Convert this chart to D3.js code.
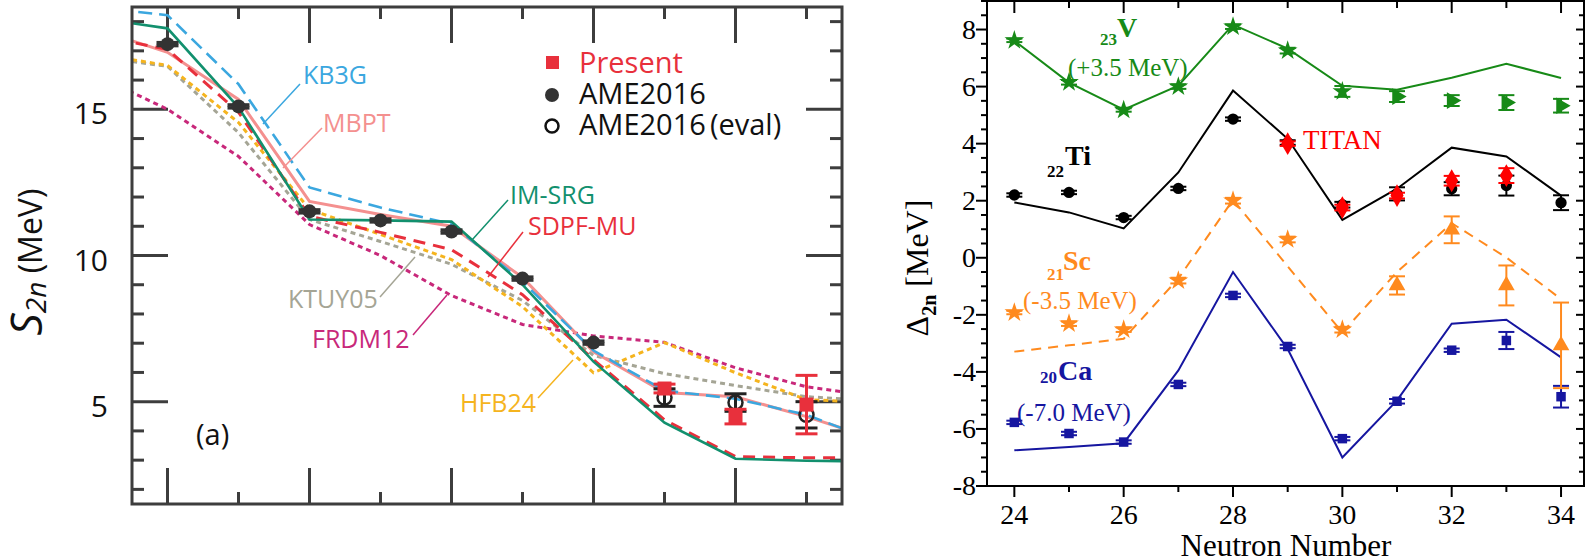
<!DOCTYPE html>
<html>
<head>
<meta charset="utf-8">
<script src="https://cdn.jsdelivr.net/npm/d3@7"></script>
<style>
  body { margin: 0; background: #fff; }
</style>
</head>
<body>
<div id="chart"></div>
<script>
// ---------- panel (a): S2n vs neutron number ----------
var leftN  = [23, 24, 25, 26, 27, 28, 29, 30, 31, 32, 33, 34];
var kb3g   = [18.49, 18.22, 15.86, 12.33, 11.64, 11.08, 9.1, 6.75, 5.38, 5.10, 4.55, 3.63];
var mbpt   = [17.74, 16.95, 15.34, 11.85, 11.40, 11.00, 9.25, 6.71, 5.31, 5.17, 4.49, 3.70];
var imsrg  = [18.12, 17.77, 15.07, 11.23, 11.20, 11.16, 9.0, 6.37, 4.28, 3.05, 2.98, 2.95];
var sdpfmu = [17.53, 17.05, 14.90, 11.34, 10.79, 10.20, 8.66, 6.44, 4.38, 3.12, 3.08, 3.08];
var ktuy05 = [16.80, 16.47, 14.20, 11.23, 10.48, 9.70, 8.46, 6.58, 5.96, 5.55, 5.17, 5.03];
var hfb24  = [16.90, 16.50, 14.55, 11.58, 10.72, 9.86, 8.25, 5.99, 7.02, 5.99, 5.07, 4.97];
var frdm12 = [16.16, 15.00, 13.39, 11.06, 10.00, 8.63, 7.64, 7.25, 7.03, 6.16, 5.51, 5.17];

var ameN   = [24, 25, 26, 27, 28, 29, 30];
var ameS2n = [17.23, 15.10, 11.51, 11.20, 10.82, 9.21, 7.02];
var ameErr = [0.05, 0.05, 0.05, 0.05, 0.05, 0.05, 0.05];

var evalN   = [31, 32, 33];
var evalS2n = [5.14, 4.97, 4.55];
var evalErr = [0.3, 0.3, 0.45];

var presN   = [31, 32, 33];
var presS2n = [5.45, 4.49, 4.90];
var presErr = [0.15, 0.25, 1.0];

var leftTicksMajor = [5, 10, 15];

// ---------- panel (b): Delta_2n ----------
var rightN   = [24, 25, 26, 27, 28, 29, 30, 31, 32, 33, 34];
var vTheory  = [7.61, 6.14, 5.19, 6.03, 8.17, 7.33, 6.03, 5.89, 6.31, 6.80, 6.30];
var vData    = [7.62, 6.15, 5.18, 6.00, 8.10, 7.26, 5.83, 5.65, 5.51, 5.44, 5.33];
var vErr     = [0.06, 0.08, 0.06, 0.08, 0.08, 0.1, 0.19, 0.19, 0.19, 0.26, 0.24];
var tiTheory = [1.94, 1.59, 1.03, 2.99, 5.86, 4.17, 1.33, 2.42, 3.86, 3.55, 2.18];
var tiData   = [2.20, 2.29, 1.41, 2.43, 4.86, 4.04, 1.86, 2.24, 2.42, 2.53, 1.93];
var tiErr    = [0.06, 0.06, 0.06, 0.06, 0.06, 0.08, 0.1, 0.23, 0.23, 0.35, 0.26];
var titanN   = [29, 30, 31, 32, 33];
var titanData= [4.00, 1.76, 2.18, 2.70, 2.88];
var titanErr = [0.08, 0.1, 0.1, 0.17, 0.26];
var scTheory = [-3.29, -3.07, -2.84, -0.73, 2.03, -0.30, -2.62, -0.50, 1.21, 0.01, -1.45];
var scData   = [-1.92, -2.31, -2.52, -0.80, 2.00, 0.64, -2.52, -0.97, 0.98, -0.97, -3.07];
var scErr    = [0.06, 0.08, 0.08, 0.1, 0.1, 0.1, 0.1, 0.32, 0.47, 0.7, 1.5];
var caTheory = [-6.75, -6.63, -6.50, -3.95, -0.50, -3.20, -7.00, -5.00, -2.31, -2.17, -3.49];
var caData   = [-5.77, -6.16, -6.46, -4.44, -1.32, -3.11, -6.34, -5.03, -3.24, -2.90, -4.87];
var caErr    = [0.06, 0.06, 0.06, 0.06, 0.06, 0.06, 0.06, 0.08, 0.06, 0.3, 0.38];

var rightTicksMajor = [-8, -6, -4, -2, 0, 2, 4, 6, 8];
var rightXLabels = [24, 26, 28, 30, 32, 34];

document.addEventListener('DOMContentLoaded', function() {

var svg = d3.select("#chart").append("svg")
  .attr("width", 1589)
  .attr("height", 557)
  .style("background", "#fff");

var sans = "'Open Sans', 'DejaVu Sans', sans-serif";
var serif = "'Liberation Serif', 'DejaVu Serif', serif";

// ============ left panel ============
var xa = d3.scaleLinear().domain([23.5, 33.5]).range([132, 842]);
var ya = d3.scaleLinear().domain([1.5, 18.5]).range([504, 7]);
var frameCol = "#3d3d3d";

svg.append("clipPath").attr("id", "clipA")
  .append("rect").attr("x", 132).attr("y", 7).attr("width", 710).attr("height", 497);

var pa = svg.append("g");

// axes: ticks inward on all four sides
function tickLines(g, vals, fn, col, w) {
  g.selectAll(null).data(vals).enter().append("line")
    .each(function(d) { var c = fn(d); d3.select(this).attr("x1", c[0]).attr("y1", c[1]).attr("x2", c[2]).attr("y2", c[3]); })
    .attr("stroke", col).attr("stroke-width", w);
}
var yMinorA = d3.range(2, 19).filter(function(v) { return leftTicksMajor.indexOf(v) < 0; });
tickLines(pa, yMinorA, function(v) { return [132, ya(v), 144, ya(v)]; }, frameCol, 3);
tickLines(pa, leftTicksMajor, function(v) { return [132, ya(v), 168, ya(v)]; }, frameCol, 3);
tickLines(pa, yMinorA, function(v) { return [842, ya(v), 830, ya(v)]; }, frameCol, 3);
tickLines(pa, leftTicksMajor, function(v) { return [842, ya(v), 806, ya(v)]; }, frameCol, 3);
var xMajorA = [24, 26, 28, 30, 32], xMinorA = [25, 27, 29, 31, 33];
tickLines(pa, xMajorA, function(n) { return [xa(n), 7, xa(n), 43]; }, frameCol, 3);
tickLines(pa, xMinorA, function(n) { return [xa(n), 7, xa(n), 19]; }, frameCol, 3);
tickLines(pa, xMajorA, function(n) { return [xa(n), 504, xa(n), 468]; }, frameCol, 3);
tickLines(pa, xMinorA, function(n) { return [xa(n), 504, xa(n), 492]; }, frameCol, 3);

pa.selectAll(".ylab").data(leftTicksMajor).enter().append("text")
  .attr("x", 108).attr("y", function(v) { return ya(v) + 15; })
  .attr("text-anchor", "end")
  .style("font-family", sans).style("font-size", "30px").attr("fill", "#111")
  .text(function(v) { return v; });

// y title  S_2n (MeV)
var ylt = pa.append("text").attr("transform", "translate(42,262) rotate(-90)")
  .attr("text-anchor", "middle").style("font-family", sans).attr("fill", "#111");
ylt.append("tspan").style("font-style", "italic").style("font-size", "44px").text("S");
ylt.append("tspan").attr("dy", 4).style("font-style", "italic").style("font-size", "28px").text("2n");
ylt.append("tspan").attr("dy", -4).style("font-size", "32px").text(" (MeV)");

// model curves
var models = [
  { name: "FRDM12",  vals: frdm12, color: "#c8287a", dash: "5,4",  w: 3 },
  { name: "KTUY05",  vals: ktuy05, color: "#a5a595", dash: "5,4",  w: 3 },
  { name: "HFB24",   vals: hfb24,  color: "#f5b41e", dash: "5,4",  w: 3 },
  { name: "MBPT",    vals: mbpt,   color: "#f4908f", dash: null,   w: 3 },
  { name: "KB3G",    vals: kb3g,   color: "#3ba7df", dash: "14,7", w: 2.6 },
  { name: "SDPF-MU", vals: sdpfmu, color: "#e8303c", dash: "12,8", w: 3 },
  { name: "IM-SRG",  vals: imsrg,  color: "#12906e", dash: null,   w: 2.6 }
];
var lineA = d3.line()
  .x(function(d) { return xa(d[0]); })
  .y(function(d) { return ya(d[1]); });
var curves = pa.append("g").attr("clip-path", "url(#clipA)");
models.forEach(function(m) {
  curves.append("path")
    .datum(leftN.map(function(n, i) { return [n, m.vals[i]]; }))
    .attr("d", lineA)
    .attr("fill", "none")
    .attr("stroke", m.color)
    .attr("stroke-width", m.w)
    .attr("stroke-dasharray", m.dash);
});

// error bar helper
function errBars(g, x, y, ns, vals, errs, color, cap, sw) {
  var d = ns.map(function(n, i) { return { n: n, v: vals[i], e: errs[i] }; });
  var e = g.append("g");
  e.selectAll(null).data(d).enter().append("line")
    .attr("x1", function(p) { return x(p.n); }).attr("x2", function(p) { return x(p.n); })
    .attr("y1", function(p) { return y(p.v - p.e); }).attr("y2", function(p) { return y(p.v + p.e); })
    .attr("stroke", color).attr("stroke-width", sw);
  [-1, 1].forEach(function(s) {
    e.selectAll(null).data(d).enter().append("line")
      .attr("x1", function(p) { return x(p.n) - cap; }).attr("x2", function(p) { return x(p.n) + cap; })
      .attr("y1", function(p) { return y(p.v + s * p.e); }).attr("y2", function(p) { return y(p.v + s * p.e); })
      .attr("stroke", color).attr("stroke-width", sw);
  });
}

// AME2016 (eval) open circles
errBars(pa, xa, ya, evalN, evalS2n, evalErr, "#222", 11, 3);
pa.selectAll(".ev").data(evalN).enter().append("circle")
  .attr("cx", function(n) { return xa(n); })
  .attr("cy", function(n, i) { return ya(evalS2n[i]); })
  .attr("r", 7).attr("fill", "none").attr("stroke", "#222").attr("stroke-width", 2.5);

// Present
errBars(pa, xa, ya, presN, presS2n, presErr, "#e8303c", 11, 3);
pa.selectAll(".pr").data(presN).enter().append("rect")
  .attr("x", function(n) { return xa(n) - 7; })
  .attr("y", function(n, i) { return ya(presS2n[i]) - 7; })
  .attr("width", 14).attr("height", 14).attr("fill", "#e8303c");

// AME2016
errBars(pa, xa, ya, ameN, ameS2n, ameErr, "#333", 11, 3.5);
pa.selectAll(".am").data(ameN).enter().append("circle")
  .attr("cx", function(n) { return xa(n); })
  .attr("cy", function(n, i) { return ya(ameS2n[i]); })
  .attr("r", 7).attr("fill", "#333");

// frame
pa.append("rect").attr("x", 132).attr("y", 7).attr("width", 710).attr("height", 497)
  .attr("fill", "none").attr("stroke", frameCol).attr("stroke-width", 3);

// legend
var leg = pa.append("g").style("font-family", sans).style("font-size", "29px");
leg.append("rect").attr("x", 546).attr("y", 56).attr("width", 13).attr("height", 13).attr("fill", "#e8303c");
leg.append("text").attr("x", 579).attr("y", 73).attr("fill", "#e8303c").text("Present");
leg.append("circle").attr("cx", 552).attr("cy", 95).attr("r", 7).attr("fill", "#333");
leg.append("text").attr("x", 579).attr("y", 104).attr("fill", "#111").text("AME2016");
leg.append("circle").attr("cx", 552).attr("cy", 126).attr("r", 6.5).attr("fill", "none").attr("stroke", "#111").attr("stroke-width", 2.5);
var evt = leg.append("text").attr("x", 579).attr("y", 135).attr("fill", "#111");
evt.append("tspan").text("AME2016");
evt.append("tspan").attr("dx", 4).text("(eval)");

// curve labels with leader lines
var tags = [
  { t: "KB3G",    c: "#3ba7df", x: 303, y: 84,  l: [300, 84, 263, 124] },
  { t: "MBPT",    c: "#f4908f", x: 323, y: 132, l: [322, 128, 283, 168] },
  { t: "IM-SRG",  c: "#12906e", x: 510, y: 204, l: [508, 200, 472, 240] },
  { t: "SDPF-MU", c: "#e8303c", x: 528, y: 235, l: [523, 232, 488, 277] },
  { t: "KTUY05",  c: "#a5a595", x: 288, y: 308, l: [380, 297, 415, 257] },
  { t: "FRDM12",  c: "#c8287a", x: 312, y: 348, l: [413, 335, 447, 295] },
  { t: "HFB24",   c: "#f5b41e", x: 460, y: 412, l: [538, 398, 573, 360] }
];
tags.forEach(function(d) {
  pa.append("text").attr("x", d.x).attr("y", d.y).attr("fill", d.c)
    .style("font-family", sans).style("font-size", "25px").text(d.t);
  pa.append("line").attr("x1", d.l[0]).attr("y1", d.l[1]).attr("x2", d.l[2]).attr("y2", d.l[3])
    .attr("stroke", d.c).attr("stroke-width", 1.5);
});
pa.append("text").attr("x", 196).attr("y", 445).style("font-family", sans)
  .style("font-size", "29px").attr("fill", "#111").text("(a)");

// ============ right panel ============
var xb = d3.scaleLinear().domain([23.5, 34.42]).range([987, 1584]);
var yb = d3.scaleLinear().domain([-8, 9]).range([486, 1]);
var pb = svg.append("g");

var yMinorB = d3.range(-7.5, 9.01, 0.5).filter(function(v) { return rightTicksMajor.indexOf(v) < 0; });
tickLines(pb, rightTicksMajor, function(v) { return [987, yb(v), 976, yb(v)]; }, "#000", 2);
tickLines(pb, yMinorB, function(v) { return [987, yb(v), 981, yb(v)]; }, "#000", 2);
tickLines(pb, rightTicksMajor, function(v) { return [1584, yb(v), 1576, yb(v)]; }, "#000", 2);
tickLines(pb, yMinorB, function(v) { return [1584, yb(v), 1579, yb(v)]; }, "#000", 2);
tickLines(pb, rightN, function(n) { return [xb(n), 486, xb(n), n % 2 ? 492 : 497]; }, "#000", 2);
tickLines(pb, rightN, function(n) { return [xb(n), 1, xb(n), n % 2 ? 8 : 13]; }, "#000", 2);

pb.selectAll(".yl").data(rightTicksMajor).enter().append("text")
  .attr("x", 976).attr("y", function(v) { return yb(v) + 9; })
  .attr("text-anchor", "end").style("font-family", serif).style("font-size", "28px")
  .text(function(v) { return String(v); });
pb.selectAll(".xl").data(rightXLabels).enter().append("text")
  .attr("x", function(n) { return xb(n); }).attr("y", 524)
  .attr("text-anchor", "middle").style("font-family", serif).style("font-size", "28px")
  .text(function(n) { return n; });
pb.append("text").attr("x", 1286).attr("y", 556).attr("text-anchor", "middle")
  .style("font-family", serif).style("font-size", "31px").text("Neutron Number");

var yt = pb.append("text").attr("transform", "translate(928,268) rotate(-90)")
  .attr("text-anchor", "middle").style("font-family", serif).style("font-size", "32px");
yt.append("tspan").text("\u0394");
yt.append("tspan").attr("dy", 8).style("font-size", "20px").style("font-weight", "bold").text("2n");
yt.append("tspan").attr("dy", -8).text(" [MeV]");

var lineB = d3.line()
  .x(function(d) { return xb(d[0]); })
  .y(function(d) { return yb(d[1]); });
function theory(vals, color, dash) {
  pb.append("path").datum(rightN.map(function(n, i) { return [n, vals[i]]; }))
    .attr("d", lineB).attr("fill", "none").attr("stroke", color)
    .attr("stroke-width", 2).attr("stroke-dasharray", dash);
}
function marks(ns, vals, color, typeFn, size, rot) {
  pb.selectAll(null).data(ns).enter().append("path")
    .attr("d", function(n) { return d3.symbol().type(typeFn(n)).size(size)(); })
    .attr("transform", function(n, i) {
      var r = rot ? rot(n) : 0;
      return "translate(" + xb(n) + "," + yb(vals[i]) + ") rotate(" + r + ")";
    })
    .attr("fill", color);
}

var cV = "#178a17", cTi = "#000", cSc = "#ff8a1e", cCa = "#1616a0", cTitan = "#ff0000";

// Ca
theory(caTheory, cCa, null);
errBars(pb, xb, yb, rightN, caData, caErr, cCa, 8, 2);
marks(rightN, caData, cCa, function() { return d3.symbolSquare; }, 90);
// Sc
theory(scTheory, cSc, "10,7");
errBars(pb, xb, yb, rightN, scData, scErr, cSc, 8, 2);
marks(rightN, scData, cSc, function(n) { return n <= 30 ? d3.symbolStar : d3.symbolTriangle; }, 120);
// Ti
theory(tiTheory, cTi, null);
errBars(pb, xb, yb, rightN, tiData, tiErr, cTi, 8, 2);
marks(rightN, tiData, cTi, function() { return d3.symbolCircle; }, 100);
errBars(pb, xb, yb, titanN, titanData, titanErr, cTitan, 8, 2);
marks(titanN, titanData, cTitan, function() { return d3.symbolDiamond; }, 150);
// V
theory(vTheory, cV, null);
errBars(pb, xb, yb, rightN, vData, vErr, cV, 8, 2);
marks(rightN, vData, cV, function(n) { return n <= 30 ? d3.symbolStar : d3.symbolTriangle; }, 120,
  function(n) { return n <= 30 ? 0 : 90; });

pb.append("rect").attr("x", 987).attr("y", 1).attr("width", 597).attr("height", 485)
  .attr("fill", "none").attr("stroke", "#000").attr("stroke-width", 2);

// series labels
function elem(sub, sym, color, xs, ys, xe, ye) {
  pb.append("text").attr("x", xs).attr("y", ys).attr("fill", color).style("font-family", serif)
    .style("font-weight", "bold").style("font-size", "17px").text(sub);
  pb.append("text").attr("x", xe).attr("y", ye).attr("fill", color).style("font-family", serif)
    .style("font-weight", "bold").style("font-size", "28px").text(sym);
}
function note(t, color, x, y, fs) {
  pb.append("text").attr("x", x).attr("y", y).attr("fill", color).style("font-family", serif)
    .style("font-size", (fs || 25) + "px").text(t);
}
elem("23", "V", cV, 1100, 45, 1117, 37);
note("(+3.5 MeV)", cV, 1068, 76);
elem("22", "Ti", cTi, 1047, 177, 1065, 165);
note("TITAN", cTitan, 1303, 149, 27);
elem("21", "Sc", cSc, 1047, 280, 1063, 270);
note("(-3.5 MeV)", cSc, 1023, 309);
elem("20", "Ca", cCa, 1040, 383, 1058, 380);
note("(-7.0 MeV)", cCa, 1017, 421);

});
</script>
</body>
</html>
